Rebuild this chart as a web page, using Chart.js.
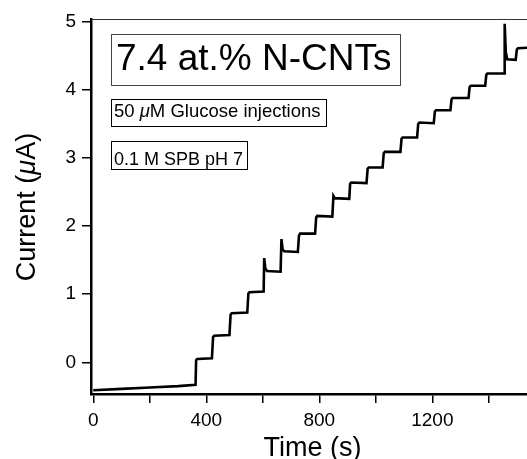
<!DOCTYPE html>
<html lang="en">

<head>
    <meta charset="UTF-8">
    <title>Amperometric response</title>
    <script src="https://cdn.jsdelivr.net/npm/chart.js@4.4.1/dist/chart.umd.min.js"></script>
    <style>
        html,
        body {
            margin: 0;
            background: #fff;
        }

        #wrap {
            position: relative;
            width: 527px;
            height: 459px;
        }
    </style>
</head>

<body>
    <div id="wrap">
        <canvas id="myChart"></canvas>
    </div>
    <script>
        // values (time in s, current in uA)
        var timeS = [
            0, 100, 200, 300, 362,
            364, 368, 420,
            424, 428, 482,
            486, 490, 545,
            549, 553, 603,
            605, 609, 615, 663,
            666, 670, 676, 724,
            728, 732, 785,
            789, 793, 846,
            850, 854, 906,
            909, 913, 967,
            971, 975, 1024,
            1028, 1032, 1087,
            1091, 1095, 1146,
            1150, 1154, 1205,
            1209, 1213, 1264,
            1268, 1272, 1328,
            1332, 1336, 1387,
            1391, 1395, 1454,
            1456, 1460, 1465, 1495,
            1499, 1503, 1540
        ];
        var currentUA = [
            -0.41, -0.39, -0.37, -0.35, -0.33,
            0.03, 0.05, 0.06,
            0.37, 0.39, 0.40,
            0.70, 0.72, 0.73,
            1.01, 1.03, 1.04,
            1.53, 1.38, 1.34, 1.33,
            1.81, 1.66, 1.63, 1.62,
            1.86, 1.89, 1.89,
            2.13, 2.15, 2.14,
            2.44, 2.41, 2.40,
            2.62, 2.64, 2.63,
            2.84, 2.86, 2.86,
            3.07, 3.09, 3.09,
            3.28, 3.30, 3.30,
            3.50, 3.52, 3.51,
            3.68, 3.70, 3.70,
            3.86, 3.88, 3.88,
            4.04, 4.06, 4.06,
            4.22, 4.24, 4.24,
            4.97, 4.55, 4.45, 4.44,
            4.59, 4.61, 4.62
        ];
        var xTicks = [0, 200, 400, 600, 800, 1000, 1200, 1400];
        var xLabels = ['0', '', '400', '', '800', '', '1200', ''];
        var yTicks = [0, 1, 2, 3, 4, 5];

        var FONT = '"Liberation Sans", Arial, sans-serif';

        var points = timeS.map(function (t, i) {
            return { x: t, y: currentUA[i] };
        });

        // draws a run of [text, italic] pieces starting at x
        function richText(ctx, parts, x, y, size) {
            parts.forEach(function (p) {
                ctx.font = (p[1] ? 'italic ' : '') + size + 'px ' + FONT;
                ctx.fillText(p[0], x, y);
                x += ctx.measureText(p[0]).width;
            });
        }

        function richWidth(ctx, parts, size) {
            var w = 0;
            parts.forEach(function (p) {
                ctx.font = (p[1] ? 'italic ' : '') + size + 'px ' + FONT;
                w += ctx.measureText(p[0]).width;
            });
            return w;
        }

        var extras = {
            id: 'extras',
            afterDraw: function (chart) {
                var ctx = chart.ctx;
                var a = chart.chartArea;
                ctx.save();

                // top frame
                ctx.strokeStyle = '#333';
                ctx.lineWidth = 1;
                ctx.beginPath();
                ctx.moveTo(a.left, a.top + 0.5);
                ctx.lineTo(a.right, a.top + 0.5);
                ctx.stroke();

                // boxes
                ctx.fillStyle = '#000';
                ctx.textBaseline = 'alphabetic';
                ctx.textAlign = 'left';
                ctx.strokeStyle = '#444';
                ctx.strokeRect(111.5, 34.5, 289, 51);
                richText(ctx, [['7.4 at.% N-CNTs', false]], 116, 70, 37);

                ctx.strokeStyle = '#000';
                ctx.strokeRect(111.5, 99.5, 215, 27);
                richText(ctx, [['50 ', false], ['\u03bc', true], ['M Glucose injections', false]], 114, 117, 18.5);

                ctx.strokeRect(111.5, 141.5, 136, 28);
                richText(ctx, [['0.1 M SPB pH 7', false]], 114, 164.5, 18);

                // axis titles
                var xt = [['Time (s)', false]];
                richText(ctx, xt, 312.5 - richWidth(ctx, xt, 27) / 2, 456, 27);

                var yt = [['Current (', false], ['\u03bc', true], ['A)', false]];
                ctx.translate(35, 207);
                ctx.rotate(-Math.PI / 2);
                richText(ctx, yt, -richWidth(ctx, yt, 27) / 2, 0, 27);
                ctx.restore();
            }
        };

        var ctx = document.getElementById('myChart').getContext('2d');
        var chart = new Chart(ctx, {
            type: 'line',
            data: {
                datasets: [{
                    data: points,
                    borderColor: '#000',
                    borderWidth: 2.6,
                    pointRadius: 0,
                    tension: 0,
                    fill: false
                }]
            },
            options: {
                responsive: true,
                maintainAspectRatio: false,
                animation: false,
                events: [],
                layout: { padding: { top: 19, right: 0, left: 0, bottom: 0 } },
                plugins: {
                    legend: { display: false },
                    tooltip: { enabled: false }
                },
                scales: {
                    x: {
                        type: 'linear',
                        min: -8,
                        max: 1535,
                        afterFit: function (s) { s.height = 65; },
                        afterBuildTicks: function (s) {
                            s.ticks = xTicks.map(function (v) { return { value: v }; });
                        },
                        grid: {
                            drawOnChartArea: false,
                            color: '#000',
                            lineWidth: 1.5,
                            tickLength: 9
                        },
                        border: { color: '#000', width: 2.5 },
                        ticks: {
                            color: '#000',
                            padding: 6,
                            maxRotation: 0,
                            autoSkip: false,
                            font: { family: FONT, size: 19 },
                            callback: function (v) {
                                var i = xTicks.indexOf(v);
                                return i < 0 ? '' : xLabels[i];
                            }
                        }
                    },
                    y: {
                        min: -0.465,
                        max: 5.04,
                        afterFit: function (s) { s.width = 91; },
                        afterBuildTicks: function (s) {
                            s.ticks = yTicks.map(function (v) { return { value: v }; });
                        },
                        grid: {
                            drawOnChartArea: false,
                            color: '#000',
                            lineWidth: 1.5,
                            tickLength: 9
                        },
                        border: { color: '#000', width: 2.5 },
                        ticks: {
                            color: '#000',
                            padding: 6,
                            font: { family: FONT, size: 19 }
                        }
                    }
                }
            },
            plugins: [extras]
        });
    </script>
</body>

</html>
